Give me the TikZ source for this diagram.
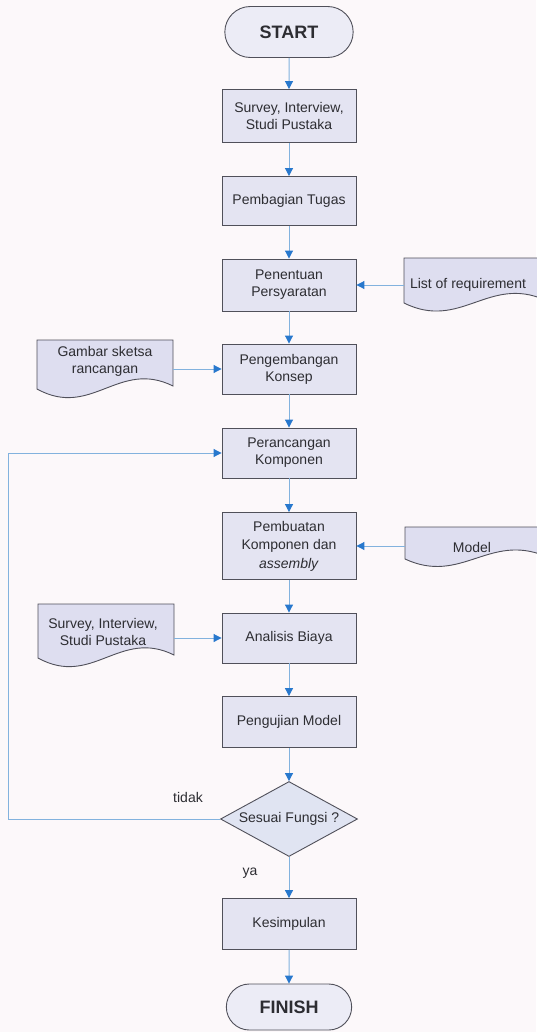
\documentclass[tikz,border=0pt]{standalone}
\usepackage{fontspec}
\setmainfont{Liberation Sans}
\usetikzlibrary{arrows.meta,shapes.geometric,shapes.misc}
\definecolor{bgcol}{RGB}{252,248,250}
\definecolor{boxfill}{RGB}{228,228,242}
\definecolor{termfill}{RGB}{236,236,246}
\definecolor{docfill}{RGB}{222,222,240}
\definecolor{diafill}{RGB}{224,228,242}
\definecolor{boxline}{RGB}{80,80,90}
\definecolor{txtcol}{RGB}{45,45,50}
\definecolor{arrcol}{RGB}{130,178,222}
\definecolor{tipcol}{RGB}{40,120,205}
\tikzset{
  proc/.style={rectangle, draw=boxline, fill=boxfill, line width=0.9pt,
    minimum width=134pt, minimum height=50pt, align=center, text=txtcol,
    font=\fontsize{14}{17}\selectfont, inner sep=2pt},
  term/.style={rounded rectangle, draw=boxline, fill=termfill, line width=0.9pt,
    minimum width=135pt, minimum height=51pt, text=txtcol,
    font=\fontsize{18}{20}\selectfont\bfseries},
  decision/.style={diamond, aspect=1.83, draw=boxline, fill=diafill, line width=0.9pt,
    minimum width=137pt, minimum height=75pt, inner sep=0pt, text=txtcol,
    font=\fontsize{14}{17}\selectfont},
  docnode/.style={rectangle, draw=none, align=center, text=txtcol,
    font=\fontsize{14}{17}\selectfont, inner sep=0pt},
  docshape/.style={draw=boxline, fill=docfill, line width=0.9pt},
  lbl/.style={text=txtcol, font=\fontsize{14}{17}\selectfont, inner sep=0pt},
  arr/.style={draw=arrcol, line width=1pt, -{Triangle[length=8pt,width=8pt,color=tipcol]}}
}
% x0 y0 x1 yb a
\newcommand\docoutline[5]{%
  \path[docshape] (#1,#2) -- (#3,#2) -- (#3,#4-3)
    .. controls ({#1+0.6*(#3-#1)},{#4-#5}) and ({#1+0.4*(#3-#1)},{#4+#5}) .. (#1,#4) -- cycle;}
\begin{document}
\begin{tikzpicture}[x=1pt,y=-1pt]
\fill[bgcol] (0,0) rectangle (536,1032);
\useasboundingbox (0,0) rectangle (536,1032);

% document shapes
\docoutline{404}{258}{545}{303}{28}
\docoutline{405}{527}{545}{559}{26}
\docoutline{37}{340}{173}{389}{30}
\docoutline{38}{604}{174}{658}{30}

% main flow
\node[term] (start) at (289,32) {START};
\node[proc, minimum height=53pt] (survey) at (289,116) {Survey, Interview,\\Studi Pustaka};
\node[proc, minimum height=49pt] (tugas) at (289,201) {Pembagian Tugas};
\node[proc, minimum height=52pt] (syarat) at (289,285) {Penentuan\\Persyaratan};
\node[proc] (konsep) at (289,369) {Pengembangan\\Konsep};
\node[proc] (rancang) at (289,453) {Perancangan\\Komponen};
\node[proc, minimum height=67pt, font=\fontsize{14}{18.5}\selectfont] (buat) at (289,546) {Pembuatan\\Komponen dan\\\textit{assembly}};
\node[proc] (biaya) at (289,638) {Analisis Biaya};
\node[proc, minimum height=51pt] (uji) at (289,722) {Pengujian Model};
\node[decision] (cek) at (289,819) {Sesuai Fungsi ?};
\node[proc, minimum height=51pt] (simpul) at (289,924) {Kesimpulan};
\node[term, minimum height=46pt, minimum width=132pt] (finish) at (289,1007) {FINISH};

% document texts
\node[docnode, minimum width=128pt, minimum height=40pt] (req) at (468,285) {List of requirement};
\node[docnode, minimum width=134pt, minimum height=30pt] (model) at (472,547) {Model};
\node[docnode, minimum width=136pt, minimum height=40pt] (sketsa) at (105,361.5) {Gambar sketsa\\rancangan};
\node[docnode, minimum width=142pt, minimum height=40pt] (survey2) at (103,631.5) {Survey, Interview,\\Studi Pustaka};

% labels
\node[lbl] (tidak) at (188,797) {tidak};
\node[lbl] (ya) at (250,873) {ya};

% connectors
\draw[arr] (start) -- (survey);
\draw[arr] (survey) -- (tugas);
\draw[arr] (tugas) -- (syarat);
\draw[arr] (syarat) -- (konsep);
\draw[arr] (konsep) -- (rancang);
\draw[arr] (rancang) -- (buat);
\draw[arr] (buat) -- (biaya);
\draw[arr] (biaya) -- (uji);
\draw[arr] (uji) -- (cek);
\draw[arr] (cek) -- (simpul);
\draw[arr] (simpul) -- (finish);

\draw[arr] (syarat.east -| req.west) -- (syarat.east);
\draw[arr] (buat.east -| model.west) -- (buat.east);
\draw[arr] (konsep.west -| sketsa.east) -- (konsep.west);
\draw[arr] (biaya.west -| survey2.east) -- (biaya.west);

\coordinate (fb) at (8,819);
\draw[arr] (cek.west) -- (fb) |- (rancang.west);
\end{tikzpicture}
\end{document}
